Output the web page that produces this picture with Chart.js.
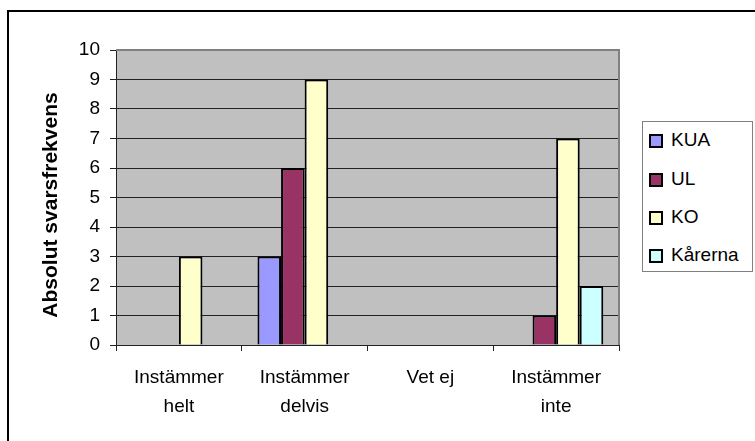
<!DOCTYPE html>
<html>
<head>
<meta charset="UTF-8">
<title>Absolut svarsfrekvens</title>
<script src="https://cdn.jsdelivr.net/npm/chart.js"></script>
<style>
  body { margin: 0; background: #fff; font-family: "Liberation Sans", Arial, sans-serif; }
  #wrap { position: relative; width: 755px; height: 441px; overflow: hidden; }
  #frame { position: absolute; left: 7px; top: 10px; width: 760px; height: 450px;
           border-left: 2px solid #000; border-top: 2px solid #000; }
  canvas { position: absolute; left: 0; top: 0; }
  #legend { position: absolute; left: 642px; top: 121px; width: 111px; height: 151px;
            border: 1px solid #808080; background: #fff; box-sizing: border-box; }
  .item { position: absolute; left: 6px; height: 24px; line-height: 24px; font-size: 19px; color: #000; }
  .item span.sw { position: absolute; left: 0; top: 6px; width: 10px; height: 10px; border: 2px solid #000; }
  .item span.tx { position: absolute; left: 22px; white-space: nowrap; }
</style>
</head>
<body>
<div id="wrap">
  <div id="frame"></div>
  <canvas id="c" width="755" height="441"></canvas>
  <div id="legend"></div>
</div>
<script>
const categories = [["Instämmer", "helt"], ["Instämmer", "delvis"], "Vet ej", ["Instämmer", "inte"]];
const seriesNames = ["KUA", "UL", "KO", "Kårerna"];
const kua = [0, 3, 0, 0];
const ul = [0, 6, 0, 1];
const ko = [3, 9, 0, 7];
const karerna = [0, 0, 0, 2];
const colors = ["#9999FF", "#993366", "#FFFFCC", "#CCFFFF"];
const yTitle = "Absolut svarsfrekvens";

const font = "'Liberation Sans', Arial, sans-serif";

const plotBg = {
  id: "plotBg",
  beforeDraw(chart) {
    const { ctx, chartArea: a } = chart;
    ctx.save();
    ctx.fillStyle = "#C0C0C0";
    ctx.fillRect(a.left, a.top, a.right - a.left, a.bottom - a.top);
    ctx.restore();
  },
  afterDatasetsDraw(chart) {
    const { ctx, chartArea: a } = chart;
    ctx.save();
    ctx.strokeStyle = "#808080";
    ctx.lineWidth = 2;
    ctx.beginPath();
    ctx.moveTo(a.left, a.top);
    ctx.lineTo(a.right, a.top);
    ctx.lineTo(a.right, a.bottom);
    ctx.stroke();
    ctx.restore();
  },
  afterDraw(chart) {
    const { ctx } = chart;
    ctx.save();
    ctx.translate(51, 205);
    ctx.rotate(-Math.PI / 2);
    ctx.font = "bold 21px " + font;
    ctx.fillStyle = "#000";
    ctx.textAlign = "center";
    ctx.textBaseline = "middle";
    ctx.fillText(yTitle, 0, 0);
    ctx.restore();
  }
};

const data = [kua, ul, ko, karerna];
new Chart(document.getElementById("c"), {
  type: "bar",
  data: {
    labels: categories,
    datasets: seriesNames.map((n, i) => ({
      label: n,
      data: data[i],
      backgroundColor: colors[i],
      borderColor: "#000",
      borderWidth: 2,
      categoryPercentage: 0.75,
      barPercentage: 1
    }))
  },
  options: {
    responsive: false,
    animation: false,
    layout: { padding: { left: 0, top: 50, right: 136, bottom: 0 } },
    plugins: { legend: { display: false }, tooltip: { enabled: false } },
    scales: {
      x: {
        grid: { offset: true, drawOnChartArea: false, tickLength: 6, color: "#222" },
        border: { display: true, color: "#222", width: 1 },
        ticks: { color: "#000", font: { family: font, size: 19, lineHeight: 1.52 }, padding: 12, maxRotation: 0 },
        afterFit(s) { s.height = 96; }
      },
      y: {
        min: 0, max: 10,
        grid: {
          color: (c) => (c.tick && c.tick.value === 10 ? "#808080" : "#222"),
          tickColor: "#222", tickLength: 6
        },
        border: { display: true, color: "#222", width: 1 },
        ticks: { stepSize: 1, color: "#000", font: { family: font, size: 19 }, padding: 10 },
        afterFit(s) { s.width = 116; }
      }
    }
  },
  plugins: [plotBg]
});

const leg = document.getElementById("legend");
const itemTops = [6, 45, 83, 121];
seriesNames.forEach((n, i) => {
  const d = document.createElement("div");
  d.className = "item";
  d.style.top = itemTops[i] + "px";
  d.innerHTML = '<span class="sw" style="background:' + colors[i] + '"></span><span class="tx">' + n + '</span>';
  leg.appendChild(d);
});
</script>
</body>
</html>
